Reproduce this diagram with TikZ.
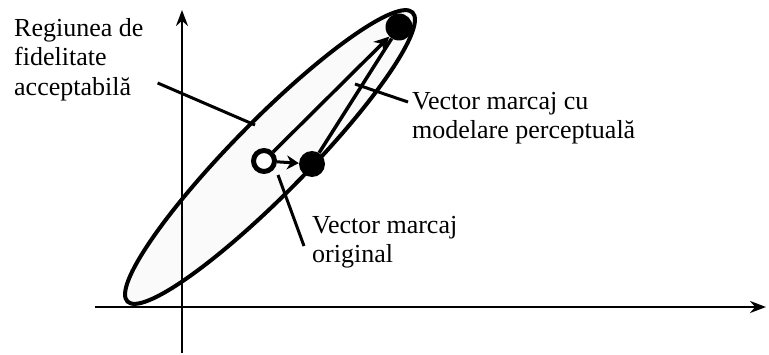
\documentclass[tikz,border=0pt]{standalone}
\usepackage{fontspec}
\setmainfont{Liberation Serif}
\usetikzlibrary{arrows.meta}
\tikzset{axisline/.style={line width=2.5pt,-{Stealth[length=16pt,width=12pt]}}}
\tikzset{vecline/.style={line width=3.5pt,-{Stealth[length=15pt,width=15pt]}}}
\tikzset{leader/.style={line width=3pt}}
\tikzset{dotB/.style={circle,fill=black,inner sep=0pt}}
\tikzset{lbl/.style={anchor=north west,inner sep=0pt,align=left,
    font=\fontsize{26}{29.5}\selectfont}}

\begin{document}
\begin{tikzpicture}[x=1pt,y=1pt]

\useasboundingbox (0,0) rectangle (769,354);

% centrul elipsei
\pgfmathsetmacro{\cx}{270}
\pgfmathsetmacro{\cy}{197}

% regiunea de fidelitate
\draw[line width=4pt,fill=gray!4,rotate around={45.4:(\cx,\cy)}]
    (\cx,\cy) ellipse [x radius=203pt, y radius=37pt];

% axe
\coordinate (xs) at (95,47);
\coordinate (xe) at (766,47);
\coordinate (ys) at (182,1);
\coordinate (ye) at (182,344);
\draw[axisline] (xs) -- (xe);
\draw[axisline] (ys) -- (ye);

% vectori
\node[circle,draw,line width=5pt,fill=white,minimum size=21pt,inner sep=0pt]
    (orig) at (264,193) {};
\node[dotB,minimum size=26pt] (pv) at (312,190) {};
\node[dotB,minimum size=27pt] (top) at (399,327) {};

\draw[line width=3.5pt] (pv) -- (top);
\draw[vecline] (orig) -- (top);
\draw[line width=3pt,-{Stealth[length=12pt,width=14pt]}] (orig) -- (pv);

% etichete
\node[lbl] (reg) at (14,336) {Regiunea de\\fidelitate\\acceptabilă};
\node[lbl] (perc) at (412,262) {Vector marcaj cu\\modelare perceptuală};
\node[lbl] (org) at (312,138) {Vector marcaj\\original};

\coordinate (regtip) at (255,229);
\coordinate (perctip) at (355,270);
\coordinate (orgtip) at (278,179);

\draw[leader] ([shift={(14pt,18pt)}]reg.south east) -- (regtip);
\draw[leader] ([shift={(-4pt,-10pt)}]perc.north west) -- (perctip);
\draw[leader] ([shift={(-8pt,-30pt)}]org.north west) -- (orgtip);

\end{tikzpicture}
\end{document}
